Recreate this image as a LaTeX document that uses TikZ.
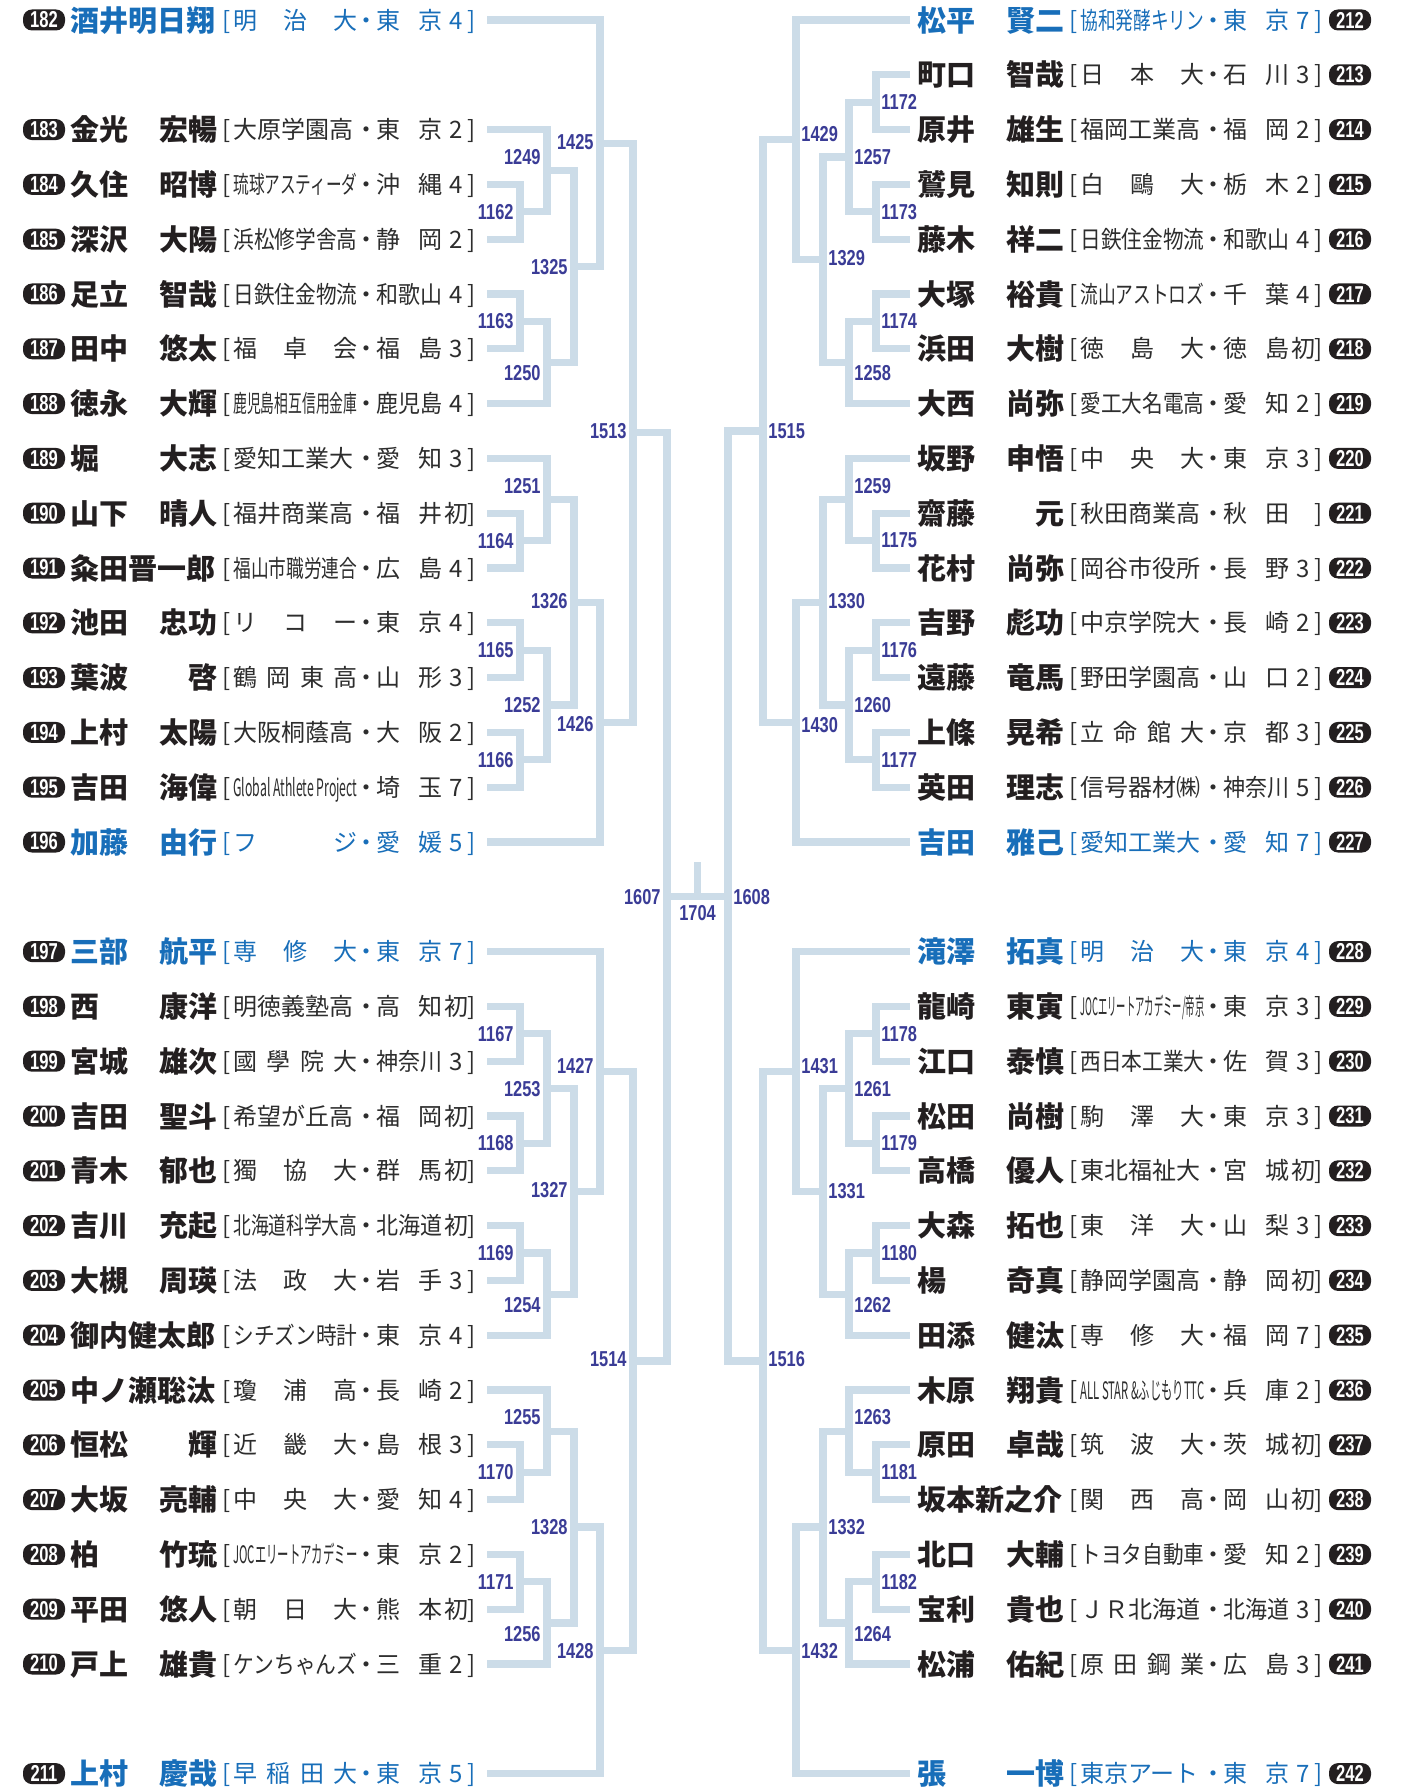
\documentclass[tikz,border=0pt]{standalone}
\usepackage{fontspec}
\usepackage{graphicx}
\newfontfamily\jp{Noto Sans CJK JP}[BoldFont={Noto Sans CJK JP Black}]
\newfontfamily\lat{Liberation Sans}
\definecolor{linec}{RGB}{204,220,232}
\definecolor{numc}{RGB}{58,60,150}
\definecolor{seedc}{RGB}{24,110,185}
\definecolor{namec}{RGB}{35,31,32}
\definecolor{affc}{RGB}{45,45,45}
\newcommand\Y[1]{{20+54.8*(#1)}}
\newcommand\fitx[2]{\sbox0{#2}\ifdim\wd0>#1\relax\resizebox{#1}{\height}{#2}\else\makebox[#1][s]{#2}\fi}
\tikzset{
 br/.style={draw=linec, line width=3.6pt},
 badge/.style={fill=namec, text=white, rounded corners=4.5pt, minimum width=21pt, minimum height=10.5pt, inner sep=0pt, font=\lat\bfseries\fontsize{11.5}{11.5}\selectfont},
 nmn/.style={anchor=west, inner sep=0pt, text height=12.76pt, text depth=1.74pt, font=\jp\bfseries\fontsize{14.5}{14.5}\selectfont, text=namec},
 nms/.style={nmn, text=seedc},
 afn/.style={anchor=west, inner sep=0pt, text height=10.56pt, text depth=1.44pt, font=\jp\fontsize{12}{12}\selectfont, text=affc},
 afs/.style={afn, text=seedc},
 mlab/.style={inner sep=0pt, font=\lat\bfseries\fontsize{10.8}{10.8}\selectfont, text=numc},
}
\newcommand\Lrow[7]{%
 \node[badge] (b#2) at (44,\Y{#1}) {\scalebox{0.72}[1]{#2}};
 \node[nm#7] (n#2) at (70,\Y{#1}) {\makebox[73.5pt][s]{#3}};
 \node[af#7,anchor=center] (lb#2) at (227,\Y{#1}) {[};
 \node[af#7] (s#2) at (233,\Y{#1}) {\fitx{62pt}{#4}};
 \node[af#7,anchor=center] (d#2) at (366,\Y{#1}) {・};
 \node[af#7] (f#2) at (376,\Y{#1}) {\fitx{33pt}{#5}};
 \node[af#7,anchor=center] (g#2) at (456,\Y{#1}) {#6};
 \node[af#7,anchor=center] (r#2) at (472,\Y{#1}) {]};
 \coordinate (p#2) at (487,\Y{#1});
}
\newcommand\Rrow[7]{%
 \node[badge] (b#2) at (1350,\Y{#1}) {\scalebox{0.72}[1]{#2}};
 \node[nm#7] (n#2) at (917,\Y{#1}) {\makebox[73.5pt][s]{#3}};
 \node[af#7,anchor=center] (lb#2) at (1074,\Y{#1}) {[};
 \node[af#7] (s#2) at (1080,\Y{#1}) {\fitx{62pt}{#4}};
 \node[af#7,anchor=center] (d#2) at (1213,\Y{#1}) {・};
 \node[af#7] (f#2) at (1223,\Y{#1}) {\fitx{33pt}{#5}};
 \node[af#7,anchor=center] (g#2) at (1303,\Y{#1}) {#6};
 \node[af#7,anchor=center] (r#2) at (1319,\Y{#1}) {]};
 \coordinate (q#2) at (910,\Y{#1});
}
\newcommand\LL[3]{\node[mlab,anchor=east] (l#1) at (#2,\Y{#3}) {\scalebox{0.76}[1]{#1}};}
\newcommand\RL[3]{\node[mlab,anchor=west] (l#1) at (#2,\Y{#3}) {\scalebox{0.76}[1]{#1}};}
\begin{document}
\begin{tikzpicture}[x=0.5pt,y=-0.5pt]
\fill[white] (0,0) rectangle (1408,1791);
\useasboundingbox (0,0) rectangle (1408,1791);
% ---------- rows left
\Lrow{0}{182}{酒井明日翔}{明\hfill 治\hfill 大}{東\hfill 京}{4}{s}
\Lrow{2}{183}{金光\hfill 宏暢}{大原学園高}{東\hfill 京}{2}{n}
\Lrow{3}{184}{久住\hfill 昭博}{琉球アスティーダ}{沖\hfill 縄}{4}{n}
\Lrow{4}{185}{深沢\hfill 大陽}{浜松修学舎高}{静\hfill 岡}{2}{n}
\Lrow{5}{186}{足立\hfill 智哉}{日鉄住金物流}{和歌山}{4}{n}
\Lrow{6}{187}{田中\hfill 悠太}{福\hfill 卓\hfill 会}{福\hfill 島}{3}{n}
\Lrow{7}{188}{徳永\hfill 大輝}{鹿児島相互信用金庫}{鹿児島}{4}{n}
\Lrow{8}{189}{堀\hfill 大志}{愛知工業大}{愛\hfill 知}{3}{n}
\Lrow{9}{190}{山下\hfill 晴人}{福井商業高}{福\hfill 井}{初}{n}
\Lrow{10}{191}{粂田晋一郎}{福山市職労連合}{広\hfill 島}{4}{n}
\Lrow{11}{192}{池田\hfill 忠功}{リ\hfill コ\hfill ー}{東\hfill 京}{4}{n}
\Lrow{12}{193}{葉波\hfill 啓}{鶴\hfill 岡\hfill 東\hfill 高}{山\hfill 形}{3}{n}
\Lrow{13}{194}{上村\hfill 太陽}{大阪桐蔭高}{大\hfill 阪}{2}{n}
\Lrow{14}{195}{吉田\hfill 海偉}{Global Athlete Project}{埼\hfill 玉}{7}{n}
\Lrow{15}{196}{加藤\hfill 由行}{フ\hfill ジ}{愛\hfill 媛}{5}{s}
\Lrow{17}{197}{三部\hfill 航平}{専\hfill 修\hfill 大}{東\hfill 京}{7}{s}
\Lrow{18}{198}{西\hfill 康洋}{明徳義塾高}{高\hfill 知}{初}{n}
\Lrow{19}{199}{宮城\hfill 雄次}{國\hfill 學\hfill 院\hfill 大}{神奈川}{3}{n}
\Lrow{20}{200}{吉田\hfill 聖斗}{希望が丘高}{福\hfill 岡}{初}{n}
\Lrow{21}{201}{青木\hfill 郁也}{獨\hfill 協\hfill 大}{群\hfill 馬}{初}{n}
\Lrow{22}{202}{吉川\hfill 充起}{北海道科学大高}{北海道}{初}{n}
\Lrow{23}{203}{大槻\hfill 周瑛}{法\hfill 政\hfill 大}{岩\hfill 手}{3}{n}
\Lrow{24}{204}{御内健太郎}{シチズン時計}{東\hfill 京}{4}{n}
\Lrow{25}{205}{中ノ瀬聡汰}{瓊\hfill 浦\hfill 高}{長\hfill 崎}{2}{n}
\Lrow{26}{206}{恒松\hfill 輝}{近\hfill 畿\hfill 大}{島\hfill 根}{3}{n}
\Lrow{27}{207}{大坂\hfill 亮輔}{中\hfill 央\hfill 大}{愛\hfill 知}{4}{n}
\Lrow{28}{208}{柏\hfill 竹琉}{JOCエリートアカデミー}{東\hfill 京}{2}{n}
\Lrow{29}{209}{平田\hfill 悠人}{朝\hfill 日\hfill 大}{熊\hfill 本}{初}{n}
\Lrow{30}{210}{戸上\hfill 雄貴}{ケンちゃんズ}{三\hfill 重}{2}{n}
\Lrow{32}{211}{上村\hfill 慶哉}{早\hfill 稲\hfill 田\hfill 大}{東\hfill 京}{5}{s}
% ---------- rows right
\Rrow{0}{212}{松平\hfill 賢二}{協和発酵キリン}{東\hfill 京}{7}{s}
\Rrow{1}{213}{町口\hfill 智哉}{日\hfill 本\hfill 大}{石\hfill 川}{3}{n}
\Rrow{2}{214}{原井\hfill 雄生}{福岡工業高}{福\hfill 岡}{2}{n}
\Rrow{3}{215}{鷲見\hfill 知則}{白\hfill 鷗\hfill 大}{栃\hfill 木}{2}{n}
\Rrow{4}{216}{藤木\hfill 祥二}{日鉄住金物流}{和歌山}{4}{n}
\Rrow{5}{217}{大塚\hfill 裕貴}{流山アストロズ}{千\hfill 葉}{4}{n}
\Rrow{6}{218}{浜田\hfill 大樹}{徳\hfill 島\hfill 大}{徳\hfill 島}{初}{n}
\Rrow{7}{219}{大西\hfill 尚弥}{愛工大名電高}{愛\hfill 知}{2}{n}
\Rrow{8}{220}{坂野\hfill 申悟}{中\hfill 央\hfill 大}{東\hfill 京}{3}{n}
\Rrow{9}{221}{齋藤\hfill 元}{秋田商業高}{秋\hfill 田}{}{n}
\Rrow{10}{222}{花村\hfill 尚弥}{岡谷市役所}{長\hfill 野}{3}{n}
\Rrow{11}{223}{吉野\hfill 彪功}{中京学院大}{長\hfill 崎}{2}{n}
\Rrow{12}{224}{遠藤\hfill 竜馬}{野田学園高}{山\hfill 口}{2}{n}
\Rrow{13}{225}{上條\hfill 晃希}{立\hfill 命\hfill 館\hfill 大}{京\hfill 都}{3}{n}
\Rrow{14}{226}{英田\hfill 理志}{信号器材㈱}{神奈川}{5}{n}
\Rrow{15}{227}{吉田\hfill 雅己}{愛知工業大}{愛\hfill 知}{7}{s}
\Rrow{17}{228}{滝澤\hfill 拓真}{明\hfill 治\hfill 大}{東\hfill 京}{4}{s}
\Rrow{18}{229}{龍崎\hfill 東寅}{JOCエリートアカデミー/帝京}{東\hfill 京}{3}{n}
\Rrow{19}{230}{江口\hfill 泰慎}{西日本工業大}{佐\hfill 賀}{3}{n}
\Rrow{20}{231}{松田\hfill 尚樹}{駒\hfill 澤\hfill 大}{東\hfill 京}{3}{n}
\Rrow{21}{232}{高橋\hfill 優人}{東北福祉大}{宮\hfill 城}{初}{n}
\Rrow{22}{233}{大森\hfill 拓也}{東\hfill 洋\hfill 大}{山\hfill 梨}{3}{n}
\Rrow{23}{234}{楊\hfill 奇真}{静岡学園高}{静\hfill 岡}{初}{n}
\Rrow{24}{235}{田添\hfill 健汰}{専\hfill 修\hfill 大}{福\hfill 岡}{7}{n}
\Rrow{25}{236}{木原\hfill 翔貴}{ALL STAR \&ふじもりTTC}{兵\hfill 庫}{2}{n}
\Rrow{26}{237}{原田\hfill 卓哉}{筑\hfill 波\hfill 大}{茨\hfill 城}{初}{n}
\Rrow{27}{238}{坂本新之介}{関\hfill 西\hfill 高}{岡\hfill 山}{初}{n}
\Rrow{28}{239}{北口\hfill 大輔}{トヨタ自動車}{愛\hfill 知}{2}{n}
\Rrow{29}{240}{宝利\hfill 貴也}{ＪＲ北海道}{北海道}{3}{n}
\Rrow{30}{241}{松浦\hfill 佑紀}{原\hfill 田\hfill 鋼\hfill 業}{広\hfill 島}{3}{n}
\Rrow{32}{242}{張\hfill 一博}{東京アート}{東\hfill 京}{7}{s}
% ---------- match junctions left
\coordinate (m1162) at (520,\Y{3.5});
\coordinate (m1163) at (520,\Y{5.5});
\coordinate (m1164) at (520,\Y{9.5});
\coordinate (m1165) at (520,\Y{11.5});
\coordinate (m1166) at (520,\Y{13.5});
\coordinate (m1249) at (547,\Y{2.75});
\coordinate (m1250) at (547,\Y{6.25});
\coordinate (m1251) at (547,\Y{8.75});
\coordinate (m1252) at (547,\Y{12.5});
\coordinate (m1325) at (574,\Y{4.5});
\coordinate (m1326) at (574,\Y{10.625});
\coordinate (m1425) at (600,\Y{2.25});
\coordinate (m1426) at (600,\Y{12.8125});
\coordinate (m1513) at (633,\Y{7.53125});
\coordinate (m1167) at (520,\Y{18.5});
\coordinate (m1168) at (520,\Y{20.5});
\coordinate (m1169) at (520,\Y{22.5});
\coordinate (m1170) at (520,\Y{26.5});
\coordinate (m1171) at (520,\Y{28.5});
\coordinate (m1253) at (547,\Y{19.5});
\coordinate (m1254) at (547,\Y{23.25});
\coordinate (m1255) at (547,\Y{25.75});
\coordinate (m1256) at (547,\Y{29.25});
\coordinate (m1327) at (574,\Y{21.375});
\coordinate (m1328) at (574,\Y{27.5});
\coordinate (m1427) at (600,\Y{19.1875});
\coordinate (m1428) at (600,\Y{29.75});
\coordinate (m1514) at (633,\Y{24.46875});
\coordinate (m1607) at (667,\Y{16});
% ---------- match junctions right
\coordinate (m1172) at (876,\Y{1.5});
\coordinate (m1173) at (876,\Y{3.5});
\coordinate (m1174) at (876,\Y{5.5});
\coordinate (m1175) at (876,\Y{9.5});
\coordinate (m1176) at (876,\Y{11.5});
\coordinate (m1177) at (876,\Y{13.5});
\coordinate (m1257) at (849,\Y{2.5});
\coordinate (m1258) at (849,\Y{6.25});
\coordinate (m1259) at (849,\Y{8.75});
\coordinate (m1260) at (849,\Y{12.5});
\coordinate (m1329) at (823,\Y{4.375});
\coordinate (m1330) at (823,\Y{10.625});
\coordinate (m1429) at (796,\Y{2.1875});
\coordinate (m1430) at (796,\Y{12.8125});
\coordinate (m1515) at (763,\Y{7.5});
\coordinate (m1178) at (876,\Y{18.5});
\coordinate (m1179) at (876,\Y{20.5});
\coordinate (m1180) at (876,\Y{22.5});
\coordinate (m1181) at (876,\Y{26.5});
\coordinate (m1182) at (876,\Y{28.5});
\coordinate (m1261) at (849,\Y{19.5});
\coordinate (m1262) at (849,\Y{23.25});
\coordinate (m1263) at (849,\Y{25.75});
\coordinate (m1264) at (849,\Y{29.25});
\coordinate (m1331) at (823,\Y{21.375});
\coordinate (m1332) at (823,\Y{27.5});
\coordinate (m1431) at (796,\Y{19.1875});
\coordinate (m1432) at (796,\Y{29.75});
\coordinate (m1516) at (763,\Y{24.46875});
\coordinate (m1608) at (728,\Y{16});
\coordinate (c1704) at (697.5,\Y{16});
\coordinate (t1704) at (697.5,862);
% ---------- bracket lines left
\draw[br] (p184) -| (m1162) |- (p185);
\draw[br] (p186) -| (m1163) |- (p187);
\draw[br] (p183) -| (m1249) |- (m1162);
\draw[br] (m1163) -| (m1250) |- (p188);
\draw[br] (m1249) -| (m1325) |- (m1250);
\draw[br] (p182) -| (m1425) |- (m1325);
\draw[br] (p190) -| (m1164) |- (p191);
\draw[br] (p189) -| (m1251) |- (m1164);
\draw[br] (p192) -| (m1165) |- (p193);
\draw[br] (p194) -| (m1166) |- (p195);
\draw[br] (m1165) -| (m1252) |- (m1166);
\draw[br] (m1251) -| (m1326) |- (m1252);
\draw[br] (m1326) -| (m1426) |- (p196);
\draw[br] (m1425) -| (m1513) |- (m1426);
\draw[br] (p198) -| (m1167) |- (p199);
\draw[br] (p200) -| (m1168) |- (p201);
\draw[br] (m1167) -| (m1253) |- (m1168);
\draw[br] (p202) -| (m1169) |- (p203);
\draw[br] (m1169) -| (m1254) |- (p204);
\draw[br] (m1253) -| (m1327) |- (m1254);
\draw[br] (p197) -| (m1427) |- (m1327);
\draw[br] (p206) -| (m1170) |- (p207);
\draw[br] (p205) -| (m1255) |- (m1170);
\draw[br] (p208) -| (m1171) |- (p209);
\draw[br] (m1171) -| (m1256) |- (p210);
\draw[br] (m1255) -| (m1328) |- (m1256);
\draw[br] (m1328) -| (m1428) |- (p211);
\draw[br] (m1427) -| (m1514) |- (m1428);
\draw[br] (m1513) -| (m1607) |- (m1514);
% ---------- bracket lines right
\draw[br] (q213) -| (m1172) |- (q214);
\draw[br] (q215) -| (m1173) |- (q216);
\draw[br] (m1172) -| (m1257) |- (m1173);
\draw[br] (q217) -| (m1174) |- (q218);
\draw[br] (m1174) -| (m1258) |- (q219);
\draw[br] (m1257) -| (m1329) |- (m1258);
\draw[br] (q212) -| (m1429) |- (m1329);
\draw[br] (q221) -| (m1175) |- (q222);
\draw[br] (q220) -| (m1259) |- (m1175);
\draw[br] (q223) -| (m1176) |- (q224);
\draw[br] (q225) -| (m1177) |- (q226);
\draw[br] (m1176) -| (m1260) |- (m1177);
\draw[br] (m1259) -| (m1330) |- (m1260);
\draw[br] (m1330) -| (m1430) |- (q227);
\draw[br] (m1429) -| (m1515) |- (m1430);
\draw[br] (q229) -| (m1178) |- (q230);
\draw[br] (q231) -| (m1179) |- (q232);
\draw[br] (m1178) -| (m1261) |- (m1179);
\draw[br] (q233) -| (m1180) |- (q234);
\draw[br] (m1180) -| (m1262) |- (q235);
\draw[br] (m1261) -| (m1331) |- (m1262);
\draw[br] (q228) -| (m1431) |- (m1331);
\draw[br] (q237) -| (m1181) |- (q238);
\draw[br] (q236) -| (m1263) |- (m1181);
\draw[br] (q239) -| (m1182) |- (q240);
\draw[br] (m1182) -| (m1264) |- (q241);
\draw[br] (m1263) -| (m1332) |- (m1264);
\draw[br] (m1332) -| (m1432) |- (q242);
\draw[br] (m1431) -| (m1516) |- (m1432);
\draw[br] (m1515) -| (m1608) |- (m1516);
\draw[br] (m1607) -- (m1608);
\draw[br] (c1704) -- (t1704);
% ---------- match labels left
\LL{1162}{514}{3.5} \LL{1163}{514}{5.5} \LL{1164}{514}{9.5} \LL{1165}{514}{11.5} \LL{1166}{514}{13.5}
\LL{1167}{514}{18.5} \LL{1168}{514}{20.5} \LL{1169}{514}{22.5} \LL{1170}{514}{26.5} \LL{1171}{514}{28.5}
\LL{1249}{541}{2.5} \LL{1250}{541}{6.45} \LL{1251}{541}{8.5} \LL{1252}{541}{12.5}
\LL{1253}{541}{19.5} \LL{1254}{541}{23.45} \LL{1255}{541}{25.5} \LL{1256}{541}{29.45}
\LL{1325}{568}{4.5} \LL{1326}{568}{10.6} \LL{1327}{568}{21.35} \LL{1328}{568}{27.5}
\LL{1425}{594}{2.22} \LL{1426}{594}{12.85} \LL{1427}{594}{19.08} \LL{1428}{594}{29.76}
\LL{1513}{627}{7.51} \LL{1514}{627}{24.43}
\LL{1607}{661}{16}
% ---------- match labels right
\RL{1172}{881}{1.5} \RL{1173}{881}{3.5} \RL{1174}{881}{5.5} \RL{1175}{881}{9.5} \RL{1176}{881}{11.5} \RL{1177}{881}{13.5}
\RL{1178}{881}{18.5} \RL{1179}{881}{20.5} \RL{1180}{881}{22.5} \RL{1181}{881}{26.5} \RL{1182}{881}{28.5}
\RL{1257}{854}{2.5} \RL{1258}{854}{6.45} \RL{1259}{854}{8.5} \RL{1260}{854}{12.5}
\RL{1261}{854}{19.5} \RL{1262}{854}{23.45} \RL{1263}{854}{25.5} \RL{1264}{854}{29.45}
\RL{1329}{828}{4.35} \RL{1330}{828}{10.6} \RL{1331}{828}{21.37} \RL{1332}{828}{27.5}
\RL{1429}{801}{2.08} \RL{1430}{801}{12.87} \RL{1431}{801}{19.08} \RL{1432}{801}{29.76}
\RL{1515}{768}{7.51} \RL{1516}{768}{24.43}
\RL{1608}{733}{16}
\node[mlab] (l1704) at (697.5,913.5) {\scalebox{0.76}[1]{1704}};
\end{tikzpicture}
\end{document}
